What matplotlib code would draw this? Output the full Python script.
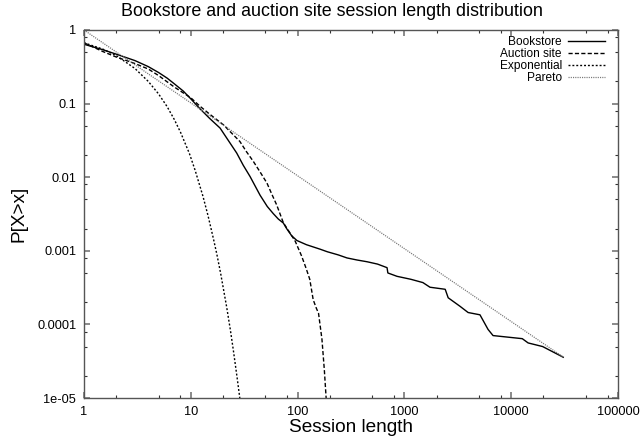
import matplotlib
matplotlib.use("Agg")
import matplotlib.pyplot as plt
from matplotlib.ticker import LogLocator, NullFormatter, FixedLocator, FixedFormatter

plt.rcParams['font.family'] = ['Liberation Sans', 'DejaVu Sans']

# ---- data ----
book_x = [1, 1.5, 2, 3, 4, 5, 6, 7, 8.5, 10, 12.2, 15, 18.8, 22, 26.9, 31, 35.9, 44.5,
          52, 59.2, 66, 73.6, 79, 88, 98.5, 121, 163, 190, 240, 290, 360, 447, 560,
          688, 700, 853, 1150, 1490, 1735, 2410, 2570, 3320, 3950, 5100, 6070, 6760,
          12700, 14400, 19700, 30700]
book_y = [0.64, 0.54, 0.47, 0.384, 0.318, 0.264, 0.222, 0.186, 0.148, 0.116, 0.085,
          0.063, 0.0465, 0.033, 0.0213, 0.0145, 0.0102, 0.0057, 0.0040, 0.0032,
          0.0027, 0.00238, 0.00200, 0.00160, 0.00138, 0.00121, 0.00105, 0.00097,
          0.00088, 0.00080, 0.00075, 0.00071, 0.00066, 0.00059, 0.00050, 0.00045,
          0.00041, 0.00037, 0.00032, 0.00030, 0.00023, 0.000176, 0.000145, 0.000135,
          0.0000855, 0.0000705, 0.000064, 0.000056, 0.000050, 0.0000358]

auction_x = [1, 1.5, 2, 3, 4, 5, 7, 10, 12.2, 15, 20.2, 24, 28.8, 33, 38.6, 45, 51.7,
             57, 63.7, 73.6, 85, 95, 109, 120, 130, 140, 150, 157, 169, 178, 185, 190]
auction_y = [0.67, 0.51, 0.43, 0.35, 0.295, 0.24, 0.168, 0.12, 0.092, 0.072, 0.0515,
             0.040, 0.0306, 0.0225, 0.0163, 0.0115, 0.0083, 0.0060, 0.0042, 0.0024,
             0.00174, 0.00135, 0.00085, 0.00058, 0.00041, 0.000216, 0.000165,
             0.000142, 0.000063, 0.000024, 0.00001, 0.000006]

expo_x = [1, 1.5, 2, 3, 4, 5, 6, 7, 8, 9.7, 11, 13, 14.5, 16.3, 17.5, 19, 21.7, 23.5,
          25, 27, 28.9, 30]
expo_y = [0.67, 0.55, 0.45, 0.30, 0.20, 0.135, 0.091, 0.061, 0.041, 0.0210, 0.0123,
          0.0055, 0.0030, 0.00145, 0.00091, 0.00050, 0.00017, 8.3e-5, 4.5e-5, 2.0e-5,
          9.5e-6, 6e-6]

pareto_x = [1, 30700]
pareto_y = [1.0, 3.6e-5]

x_ticks = [1, 10, 100, 1000, 10000, 100000]
x_labels = ['1', '10', '100', '1000', '10000', '100000']
y_ticks = [1e-5, 1e-4, 1e-3, 1e-2, 1e-1, 1]
y_labels = ['1e-05', '0.0001', '0.001', '0.01', '0.1', '1']

title = 'Bookstore and auction site session length distribution'
xlabel = 'Session length'
ylabel = 'P[X>x]'

# ---- figure ----
fig = plt.figure(figsize=(6.41, 4.42), dpi=100)
ax = fig.add_axes([84 / 641, 1 - 398 / 442, (618 - 84) / 641, (398 - 30) / 442])

ax.plot(book_x, book_y, color='black', lw=1.0, label='Bookstore')
ax.plot(auction_x, auction_y, color='black', lw=1.0, dashes=(3, 1.6), label='Auction site')
ax.plot(expo_x, expo_y, color='black', lw=1.0, dashes=(1.4, 1.4), label='Exponential')
ax.plot(pareto_x, pareto_y, color='#777777', lw=0.9, dashes=(0.9, 0.9), label='Pareto')

ax.set_xscale('log')
ax.set_yscale('log')
ax.set_xlim(1, 100000)
ax.set_ylim(1e-5, 1)

ax.xaxis.set_major_locator(FixedLocator(x_ticks))
ax.xaxis.set_major_formatter(FixedFormatter(x_labels))
ax.yaxis.set_major_locator(FixedLocator(y_ticks))
ax.yaxis.set_major_formatter(FixedFormatter(y_labels))
ax.xaxis.set_minor_locator(LogLocator(base=10, subs=[2, 5, 8], numticks=50))
ax.yaxis.set_minor_locator(LogLocator(base=10, subs=[2, 5, 8], numticks=50))
ax.xaxis.set_minor_formatter(NullFormatter())
ax.yaxis.set_minor_formatter(NullFormatter())

ax.tick_params(which='both', direction='in', top=True, right=True, labelsize=9.2,
               labelcolor='black')
ax.tick_params(which='major', length=4.5, width=1.2, color='#777777', pad=5.5)
ax.tick_params(which='minor', length=2.3, width=0.8, color='#333333')

for s in ax.spines.values():
    s.set_color('#555555')
    s.set_linewidth(1.0)

fig.text(332 / 641, 1 - 11 / 442, title, ha='center', va='center', fontsize=12.9)
fig.text(351 / 641, 1 - 427 / 442, xlabel, ha='center', va='center', fontsize=13.7)
fig.text(19 / 641, 1 - 214 / 442, ylabel, ha='center', va='center', fontsize=13.7,
         rotation=90)

leg = ax.legend(loc='upper right', frameon=False, markerfirst=False, fontsize=8.6,
                handlelength=3.1, handletextpad=0.5, labelspacing=0.0,
                borderaxespad=0, borderpad=0,
                bbox_to_anchor=(605 / 641, 1 - 36 / 442),
                bbox_transform=fig.transFigure)

fig.savefig('out.png', dpi=100)
